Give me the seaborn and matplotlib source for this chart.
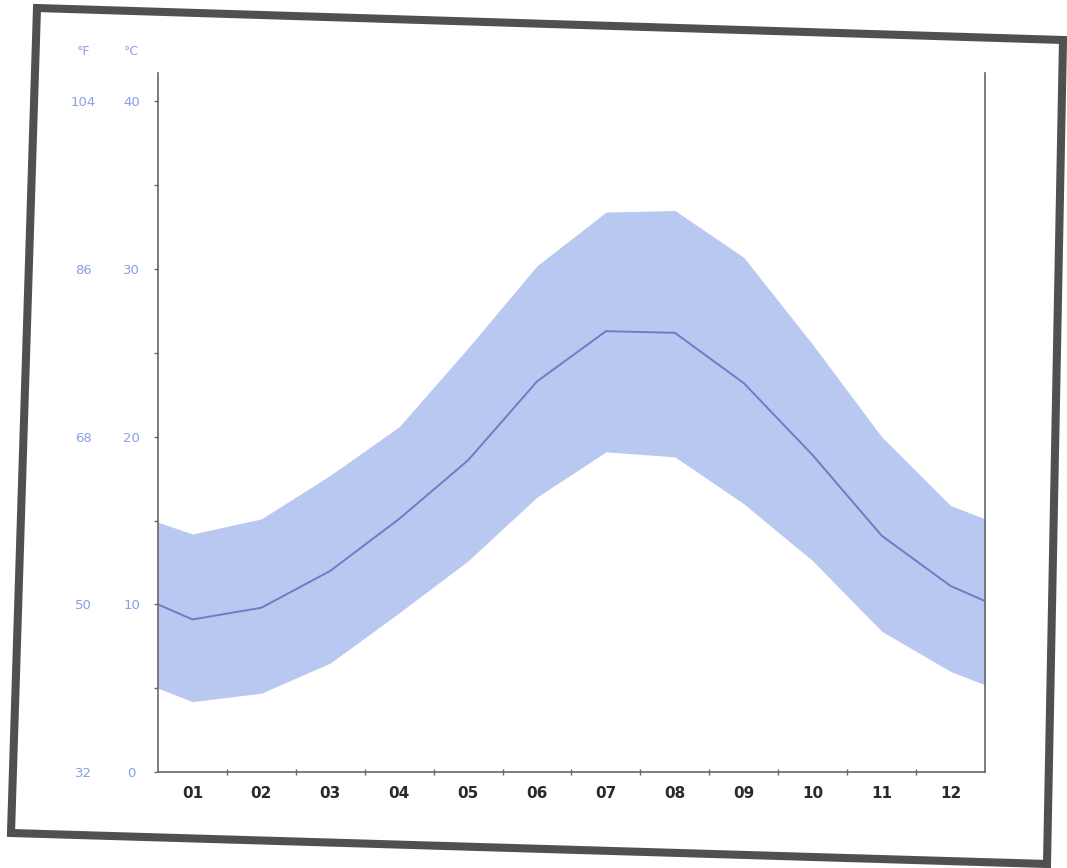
import numpy as np
import pandas as pd
import matplotlib
matplotlib.use("Agg")
import matplotlib.pyplot as plt
from matplotlib.patches import Polygon
import seaborn as sns

# ---- data ----
month_pos = [0.5, 1, 2, 3, 4, 5, 6, 7, 8, 9, 10, 11, 12, 12.5]
mean_c = [10.0, 9.1, 9.8, 12.0, 15.1, 18.6, 23.3, 26.3, 26.2, 23.2, 18.9, 14.1, 11.1, 10.2]
upper_c = [14.9, 14.2, 15.1, 17.7, 20.6, 25.3, 30.2, 33.4, 33.5, 30.7, 25.5, 20.0, 15.9, 15.1]
lower_c = [5.0, 4.2, 4.7, 6.5, 9.5, 12.6, 16.4, 19.1, 18.8, 16.0, 12.6, 8.4, 6.0, 5.2]
month_labels = ["01", "02", "03", "04", "05", "06", "07", "08", "09", "10", "11", "12"]
c_ticks = [0, 10, 20, 30, 40]
f_ticks = [32, 50, 68, 86, 104]

df = pd.DataFrame({"month": month_pos, "mean": mean_c, "upper": upper_c, "lower": lower_c})

sns.set_theme(style="white")
plt.rcParams["font.family"] = ["DejaVu Sans"]

W, H = 1067, 868
fig = plt.figure(figsize=(W / 100, H / 100), dpi=100)
fig.patch.set_facecolor("white")

# axes placement (pixels)
left_px, right_px, top_px, bottom_px = 158, 985, 73, 772
ax = fig.add_axes([left_px / W, 1 - bottom_px / H, (right_px - left_px) / W, (bottom_px - top_px) / H])

band_col = "#b9c8f1"
line_col = "#6a7ec6"
label_blue = "#8a9ee6"
axis_col = "#666666"

ax.fill_between(df["month"], df["lower"], df["upper"], color=band_col, lw=0, zorder=1)
sns.lineplot(data=df, x="month", y="mean", ax=ax, color=line_col, lw=1.4, sort=False, zorder=2)

ax.set_xlim(0.5, 12.5)
ax.set_ylim(0, 41.7)
ax.set_xlabel("")
ax.set_ylabel("")

# spines
for s in ["left", "bottom", "right"]:
    ax.spines[s].set_visible(True)
    ax.spines[s].set_color(axis_col)
    ax.spines[s].set_linewidth(1.2)
ax.spines["top"].set_visible(False)

# x ticks: labels at month centres, small marks at month boundaries
ax.set_xticks(range(1, 13))
ax.set_xticklabels(month_labels)
ax.set_xticks(np.arange(1.5, 12.0, 1.0), minor=True)
ax.tick_params(axis="x", which="major", length=0, pad=10, labelsize=11, labelcolor="#2a2a2a")
ax.tick_params(axis="x", which="minor", length=4, width=1, color=axis_col, direction="inout", bottom=True)
for t in ax.get_xticklabels():
    t.set_fontweight("bold")

# y ticks (°C)
ax.set_yticks(c_ticks)
ax.set_yticklabels([str(v) for v in c_ticks])
ax.set_yticks([5, 15, 25, 35], minor=True)
ax.tick_params(axis="y", which="both", length=3, width=1, color=axis_col, left=True, direction="out")
ax.tick_params(axis="y", which="major", pad=16, labelsize=9.5, labelcolor=label_blue)
for t in ax.get_yticklabels():
    t.set_horizontalalignment("center")

# secondary °F scale
sec = ax.secondary_yaxis("left", functions=(lambda c: c * 9 / 5 + 32, lambda f: (f - 32) * 5 / 9))
sec.set_yticks(f_ticks)
sec.set_yticklabels([str(v) for v in f_ticks])
sec.spines["left"].set_visible(False)
sec.tick_params(axis="y", length=0, pad=54, labelsize=9.5, labelcolor=label_blue)
for t in sec.get_yticklabels():
    t.set_horizontalalignment("center")

# unit headers
ax.annotate("°C", xy=(0, 43.0), xycoords=ax.get_yaxis_transform(), xytext=(-19, 0),
            textcoords="offset points", ha="center", va="center", fontsize=9, color=label_blue,
            annotation_clip=False)
ax.annotate("°F", xy=(0, 43.0), xycoords=ax.get_yaxis_transform(), xytext=(-54, 0),
            textcoords="offset points", ha="center", va="center", fontsize=9, color=label_blue,
            annotation_clip=False)

ax.grid(False)
ax.set_facecolor("white")

# scanned-sheet frame
corners = [(37, 8), (1063, 40), (1047, 864), (11, 833)]
frame = Polygon([(x / W, 1 - y / H) for x, y in corners], closed=True, fill=False,
                edgecolor="#505050", linewidth=5.8, transform=fig.transFigure, zorder=0)
fig.add_artist(frame)

fig.savefig("out.png", dpi=100, facecolor="white")
